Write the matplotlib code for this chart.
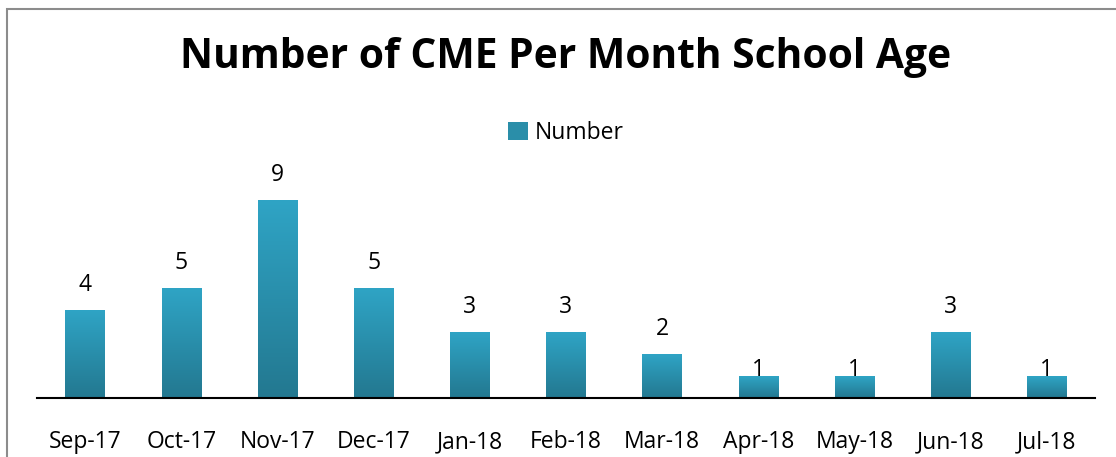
import numpy as np
import matplotlib.pyplot as plt
from matplotlib.patches import Rectangle, Patch
from matplotlib.colors import LinearSegmentedColormap

months = ['Sep-17', 'Oct-17', 'Nov-17', 'Dec-17', 'Jan-18', 'Feb-18',
          'Mar-18', 'Apr-18', 'May-18', 'Jun-18', 'Jul-18']
counts = [4, 5, 9, 5, 3, 3, 2, 1, 1, 3, 1]

plt.rcParams['font.family'] = ['Open Sans', 'DejaVu Sans']

fig = plt.figure(figsize=(11.16, 4.57), dpi=100)
W, H = 1116, 457
# chart border (cropped on the right/bottom like the original)
fig.patches.append(Rectangle((7 / W, -0.1), 1.2, (H - 9) / H + 0.1,
                             transform=fig.transFigure, fill=False,
                             edgecolor='#8c8c8c', linewidth=1.5))

ax = fig.add_axes([37 / W, 59 / H, (1095 - 37) / W, 220 / H])
x = np.arange(len(months))
bars = ax.bar(x, counts, width=0.41, color='#2a8ea9', zorder=2)

# vertical gradient on each bar
cmap = LinearSegmentedColormap.from_list('teal', ['#237890', '#2fa4c5'])
grad = np.linspace(0, 1, 256).reshape(-1, 1)
for b in bars:
    x0, y0 = b.get_x(), b.get_y()
    im = ax.imshow(grad, cmap=cmap, origin='lower', aspect='auto',
                   extent=[x0, x0 + b.get_width(), y0, y0 + b.get_height()],
                   zorder=3)
    im.set_clip_path(b)

for xi, v in zip(x, counts):
    ly = v + 1.15 if v > 1 else v + 0.25
    ax.text(xi, ly, str(v), ha='center', va='center', fontsize=16.5, zorder=4)

ax.set_xlim(-0.5, len(months) - 0.5)
ax.set_ylim(0, 10)
ax.set_xticks(x)
ax.set_xticklabels(months, fontsize=16.5)
ax.tick_params(axis='x', length=0, pad=23)
ax.set_yticks([])
for s in ['top', 'right', 'left']:
    ax.spines[s].set_visible(False)
ax.spines['bottom'].set_linewidth(1.5)
ax.spines['bottom'].set_zorder(5)

fig.text(566 / W, 1 - 57 / H, 'Number of CME Per Month School Age',
         ha='center', va='center', fontsize=29.3, fontweight='bold')
fig.legend(handles=[Patch(facecolor='#2a8ea9', label='Number')],
           loc='center', bbox_to_anchor=(566 / W, 1 - 133 / H),
           frameon=False, fontsize=16.5, handlelength=0.85, handleheight=0.85,
           handletextpad=0.3)

fig.savefig('out.png', dpi=100)
